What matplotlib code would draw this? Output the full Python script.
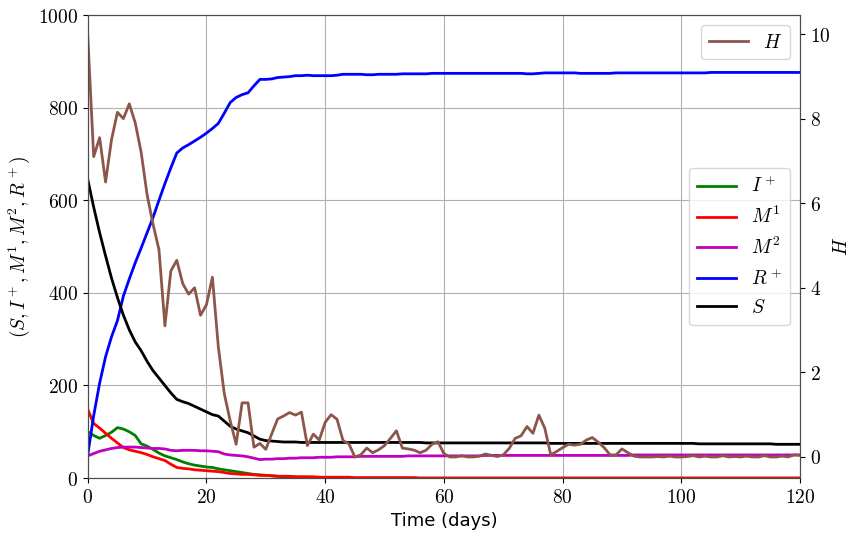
import matplotlib
matplotlib.use("Agg")
from matplotlib import pyplot as plt
import matplotlib.ticker as mticker
import numpy as np

plt.rcParams["mathtext.fontset"] = "cm"

# days 0..120
days = np.arange(0, 121)

# susceptible
S = [645, 585, 530, 480, 432, 390, 352, 320, 294, 275,
     252, 232, 216, 200, 184, 170, 165, 161, 155, 149,
     143, 137, 134, 123, 112, 106, 102, 98, 91, 84,
     81, 80, 79, 78, 78, 78, 77, 77, 77, 77,
     77, 77, 77, 77, 77, 77, 77, 77, 77, 77,
     77, 77, 77, 77, 77, 77, 77, 76, 76, 76,
     76, 76, 76, 76, 76, 76, 76, 76, 76, 76,
     76, 76, 76, 76, 76, 76, 76, 76, 75, 75,
     75, 75, 75, 75, 75, 75, 75, 75, 75, 75,
     75, 75, 75, 75, 75, 75, 75, 75, 75, 75,
     75, 75, 75, 74, 74, 74, 74, 74, 74, 74,
     74, 74, 74, 74, 74, 74, 73, 73, 73, 73, 73]

# infected
I_plus = [100, 92, 86, 92, 99, 109, 106, 100, 92, 74,
          69, 62, 54, 48, 44, 40, 35, 31, 28, 26,
          24, 23, 20, 18, 16, 14, 12, 10, 8, 7,
          6, 5, 4, 3, 3, 2, 2, 2, 1, 1,
          1, 1, 1, 1, 1, 0, 0, 0, 0, 0] + [0] * 71

M1 = [148, 118, 108, 97, 86, 76, 66, 61, 58, 55,
      51, 46, 42, 38, 30, 23, 21, 20, 18, 17,
      16, 15, 14, 12, 10, 9, 8, 8, 7, 6,
      6, 5, 4, 4, 4, 3, 3, 3, 3, 2,
      2, 2, 2, 2, 2, 1, 1, 1, 1, 1,
      1, 1, 1, 1, 1, 1, 0, 0, 0, 0] + [0] * 61

M2 = [48, 53, 58, 61, 64, 66, 67, 67, 67, 66,
      65, 64, 64, 63, 60, 59, 60, 60, 60, 59,
      59, 58, 57, 52, 50, 49, 48, 46, 43, 40,
      41, 41, 42, 42, 43, 43, 44, 44, 44, 45,
      45, 45, 46, 46, 46, 46, 47, 47, 47, 47,
      47, 47, 47, 47, 48, 48, 48, 48, 48, 48,
      48, 48, 48, 48, 48, 48, 48, 49, 49, 49,
      49, 49, 49, 49, 49, 49, 49, 49, 49, 49,
      49, 49, 49, 49, 49, 49, 49, 49, 49, 49,
      49, 49, 50, 50, 50, 50, 50, 50, 50, 50,
      50, 50, 50, 50, 50, 50, 50, 50, 50, 50,
      50, 50, 50, 50, 50, 50, 50, 50, 50, 50, 50]

R_plus = [50, 135, 205, 262, 305, 340, 393, 430, 465, 497,
          530, 563, 600, 636, 670, 702, 713, 720, 728, 736,
          745, 755, 766, 788, 811, 822, 828, 832, 847, 861,
          861, 862, 865, 866, 867, 869, 869, 870, 869, 869,
          869, 869, 870, 872, 872, 872, 872, 871, 871, 872,
          872, 872, 872, 873, 873, 873, 873, 873, 874, 874,
          874, 874, 874, 874, 874, 874, 874, 874, 874, 874,
          874, 874, 874, 874, 873, 873, 874, 875, 875, 875,
          875, 875, 875, 874, 874, 874, 874, 874, 874, 875,
          875, 875, 875, 875, 875, 875, 875, 875, 875, 875,
          875, 875, 875, 875, 875, 876, 876, 876, 876, 876,
          876, 876, 876, 876, 876, 876, 876, 876, 876, 876, 876]

H = [9.95, 7.1, 7.55, 6.5, 7.5, 8.15, 8.0, 8.35, 7.9, 7.2,
     6.2, 5.5, 4.9, 3.1, 4.4, 4.65, 4.1, 3.85, 4.0, 3.35,
     3.6, 4.25, 2.6, 1.5, 0.85, 0.3, 1.28, 1.28, 0.23, 0.32,
     0.18, 0.55, 0.9, 0.97, 1.05, 0.99, 1.06, 0.27, 0.54, 0.4,
     0.82, 1.0, 0.89, 0.39, 0.31, 0.0, 0.05, 0.21, 0.1, 0.17,
     0.27, 0.44, 0.62, 0.21, 0.19, 0.16, 0.1, 0.16, 0.3, 0.36,
     0.08, 0.0, 0.0, 0.03, 0.0, 0.0, 0.02, 0.07, 0.04, 0.01,
     0.05, 0.2, 0.44, 0.5, 0.72, 0.56, 0.99, 0.68, 0.05, 0.13,
     0.22, 0.3, 0.28, 0.3, 0.4, 0.46, 0.35, 0.22, 0.05, 0.05,
     0.19, 0.1, 0.02, 0.0, 0.0, 0.0, 0.01, 0.0, 0.02, 0.0,
     0.0, 0.01, 0.03, 0.0, 0.02, 0.0, 0.0, 0.03, 0.0, 0.01,
     0.0, 0.02, 0.0, 0.0, 0.03, 0.0, 0.0, 0.02, 0.0, 0.05, 0.04]

fig = plt.figure(figsize=(8.52, 5.36), dpi=100)
ax = fig.add_axes([0.103, 0.108, 0.836, 0.864])
ax2 = ax.twinx()

ax.plot(days, I_plus, color='g', lw=2, label='$I^+$')
ax.plot(days, M1, color='r', lw=2, label='$M^1$')
ax.plot(days, M2, color='m', lw=2, label='$M^2$')
ax.plot(days, R_plus, color='b', lw=2, label='$R^+$')
ax.plot(days, S, color='k', lw=2, label='$S$')

ax2.plot(days, H, color='tab:brown', lw=2, label='$H$')

ax.set_xlim(0, 120)
ax.set_ylim(0, 1000)
ax2.set_ylim(-0.5, 10.45)
ax.set_xticks([0, 20, 40, 60, 80, 100, 120])
ax.set_yticks([0, 200, 400, 600, 800, 1000])
ax2.set_yticks([0, 2, 4, 6, 8, 10])

fmt = mticker.FuncFormatter(lambda v, p: '$%g$' % v)
ax.xaxis.set_major_formatter(fmt)
ax.yaxis.set_major_formatter(fmt)
ax2.yaxis.set_major_formatter(fmt)
ax.tick_params(labelsize=14)
ax2.tick_params(labelsize=14)

ax.grid(True)
ax.set_xlabel('Time (days)', fontsize=13)
ax.set_ylabel('$(S, I^+, M^1, M^2, R^+)$', fontsize=14)
ax2.set_ylabel('$H$', fontsize=14, labelpad=1)

for a in (ax, ax2):
    for sp in a.spines.values():
        sp.set_color('0.3')

ax.legend(loc='center right', fontsize=14)
ax2.legend(loc='upper right', fontsize=14)

fig.savefig('out.png', dpi=100)
